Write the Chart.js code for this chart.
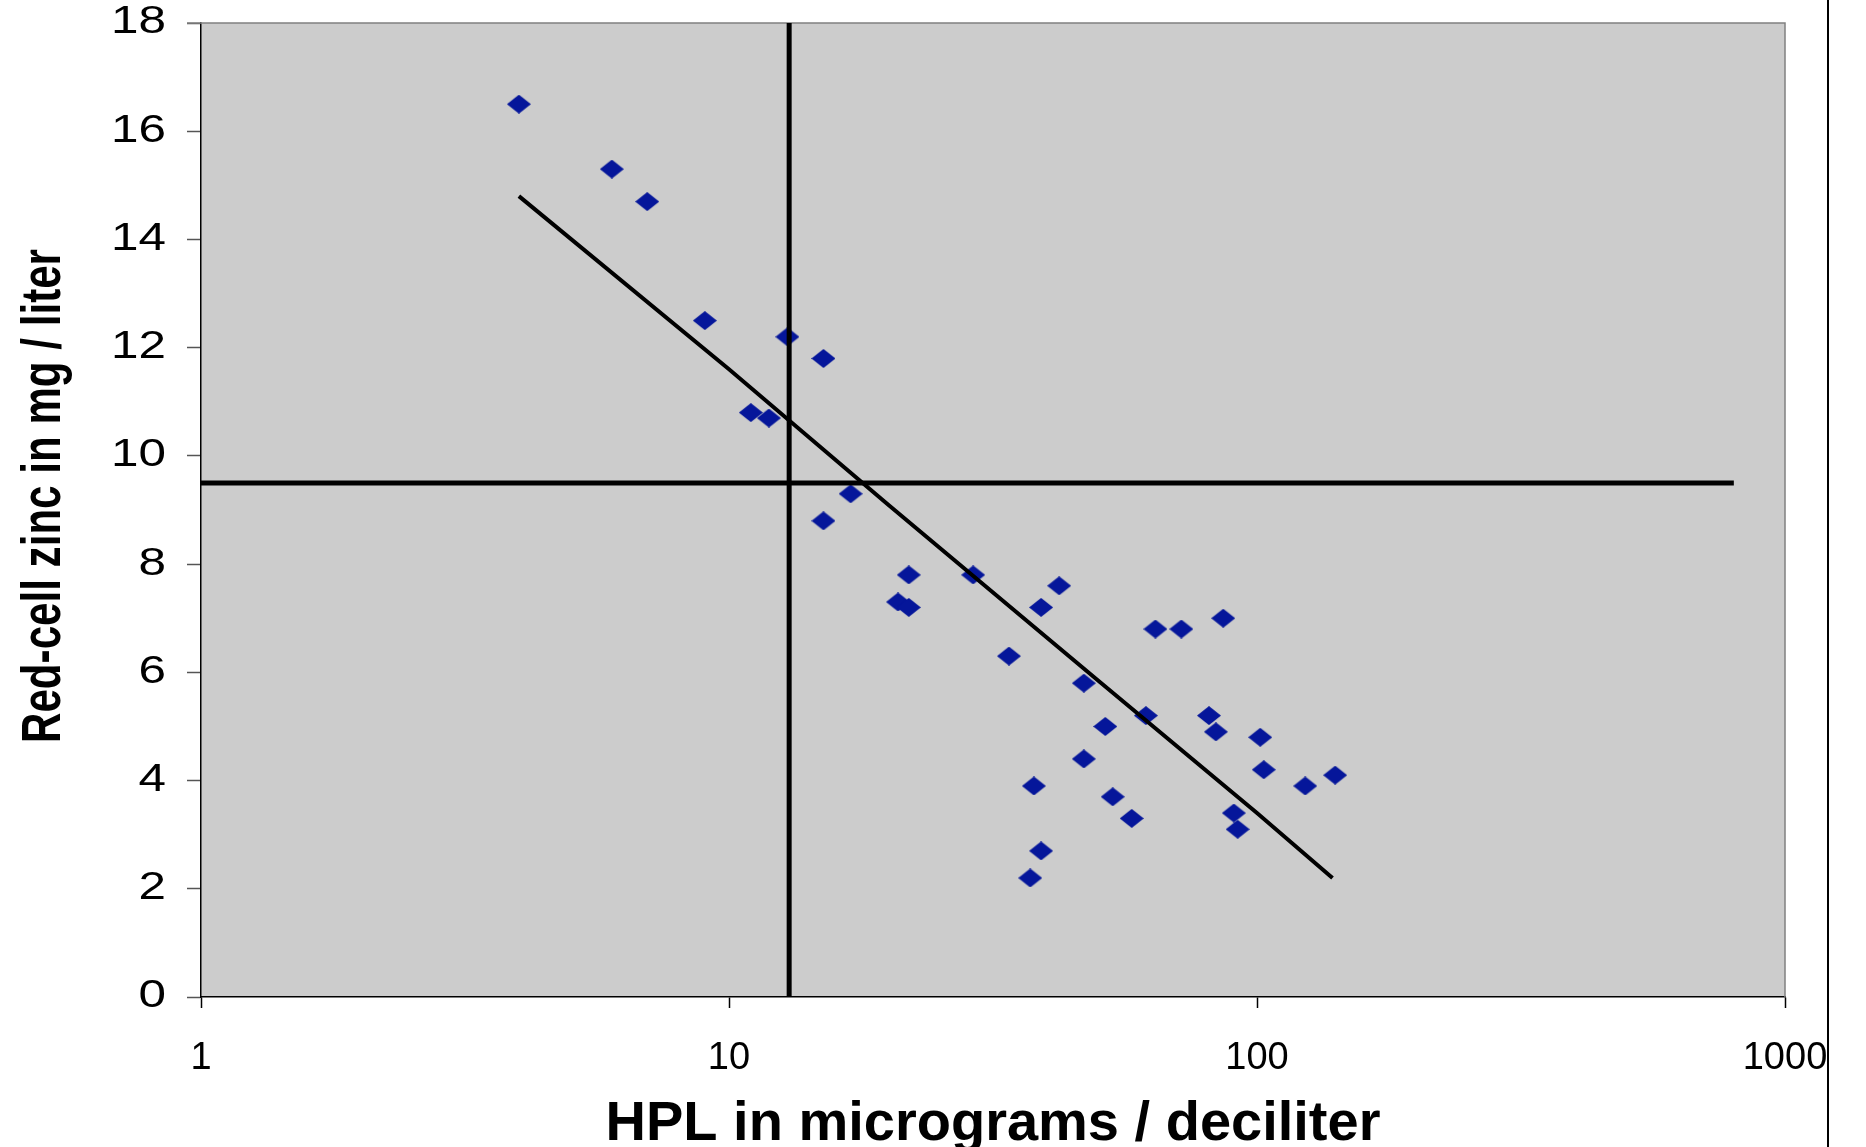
<!DOCTYPE html>
<html>
<head>
<meta charset="utf-8">
<script src="https://cdn.jsdelivr.net/npm/chart.js@4/dist/chart.umd.min.js"></script>
<style>
  html, body { margin: 0; padding: 0; background: #fff; }
  #wrap { width: 1866px; height: 1147px; }
</style>
</head>
<body>
<div id="wrap"><canvas id="zincChart" width="1866" height="1147"></canvas></div>
<script>
// HPL (x, log scale) vs red-cell zinc (y)
const hplValues = [4.0, 6.0, 7.0, 9.0, 12.9, 15.1, 11.0, 11.9, 17.0, 15.1,
    21.9, 20.9, 21.9, 29.0, 33.9, 42.2, 39.0, 47.0, 51.6, 47.0,
    37.8, 53.3, 57.9, 39.0, 37.2, 61.6, 64.2, 71.9, 86.3, 81.1,
    83.6, 101.4, 103.0, 123.4, 140.6, 90.4, 91.9];
const zincValues = [16.5, 15.3, 14.7, 12.5, 12.2, 11.8, 10.8, 10.7, 9.3, 8.8,
    7.8, 7.3, 7.2, 7.8, 6.3, 7.6, 7.2, 5.8, 5.0, 4.4,
    3.9, 3.7, 3.3, 2.7, 2.2, 5.2, 6.8, 6.8, 7.0, 5.2,
    4.9, 4.8, 4.2, 3.9, 4.1, 3.4, 3.1];

// trend line
const trendX = [4, 10, 20, 50, 100, 139];
const trendY = [14.8, 11.6, 9.1, 5.85, 3.4, 2.2];

// reference lines
const refHplValue = 13;
const refZincValue = 9.5;
const refZincLineX = [1, 800];
const refHplLineY = [0, 18];

const xTickValues = [1, 10, 100, 1000];
const yTickValues = [0, 2, 4, 6, 8, 10, 12, 14, 16, 18];

const xTitle = 'HPL in micrograms / deciliter';
const yTitle = 'Red-cell zinc in mg / liter';

const FONT = '"Liberation Sans", Arial, Helvetica, sans-serif';

// flat blue diamond marker
function makeDiamond(w, h, color) {
    const c = document.createElement('canvas');
    c.width = w;
    c.height = h;
    const g = c.getContext('2d');
    g.fillStyle = color;
    g.beginPath();
    g.moveTo(w / 2, 0);
    g.lineTo(w, h / 2);
    g.lineTo(w / 2, h);
    g.lineTo(0, h / 2);
    g.closePath();
    g.fill();
    return c;
}

const plotDecor = {
    id: 'plotDecor',
    beforeDraw(chart) {
        const { ctx, chartArea: a } = chart;
        ctx.save();
        ctx.fillStyle = '#ffffff';
        ctx.fillRect(0, 0, chart.width, chart.height);
        ctx.fillStyle = '#cccccc';
        ctx.fillRect(a.left, a.top, a.right - a.left, a.bottom - a.top);
        ctx.restore();
    },
    beforeDatasetsDraw(chart) {
        const { ctx, chartArea: a } = chart;
        ctx.save();
        ctx.strokeStyle = '#808080';
        ctx.lineWidth = 1.5;
        ctx.beginPath();
        ctx.moveTo(a.left - 14, a.top);
        ctx.lineTo(a.right, a.top);
        ctx.lineTo(a.right, a.bottom);
        ctx.stroke();
        ctx.restore();
    },
    afterDraw(chart) {
        const { ctx } = chart;
        const ys = chart.scales.y;

        ctx.save();
        // outer frame edge on the right
        ctx.strokeStyle = '#000000';
        ctx.lineWidth = 2;
        ctx.beginPath();
        ctx.moveTo(1828, 0);
        ctx.lineTo(1828, chart.height);
        ctx.stroke();

        // y tick labels, drawn a bit wide like the original
        ctx.fillStyle = '#000000';
        ctx.font = '38px ' + FONT;
        ctx.textAlign = 'right';
        ctx.textBaseline = 'middle';
        ys.ticks.forEach(t => {
            ctx.save();
            ctx.translate(ys.right - 35, ys.getPixelForValue(t.value));
            ctx.scale(1.3, 1);
            ctx.fillText(String(t.value), 0, 0);
            ctx.restore();
        });

        // condensed rotated y title
        ctx.translate(45, 496);
        ctx.rotate(-Math.PI / 2);
        ctx.font = 'bold 56px ' + FONT;
        const w = ctx.measureText(yTitle).width;
        ctx.scale(494 / w, 1);
        ctx.textAlign = 'center';
        ctx.fillText(yTitle, 0, 0);
        ctx.restore();
    }
};

const points = hplValues.map((x, i) => ({ x: x, y: zincValues[i] }));
const trend = trendX.map((x, i) => ({ x: x, y: trendY[i] }));
const hLine = refZincLineX.map(x => ({ x: x, y: refZincValue }));
const vLine = refHplLineY.map(y => ({ x: refHplValue, y: y }));

const ctx = document.getElementById('zincChart');
new Chart(ctx, {
    type: 'scatter',
    data: {
        datasets: [
            {
                label: 'HPL ref',
                data: vLine,
                showLine: true,
                borderColor: '#000000',
                borderWidth: 5,
                pointRadius: 0
            },
            {
                label: 'Zinc ref',
                data: hLine,
                showLine: true,
                borderColor: '#000000',
                borderWidth: 5,
                pointRadius: 0
            },
            {
                label: 'Trend',
                data: trend,
                showLine: true,
                borderColor: '#000000',
                borderWidth: 4,
                pointRadius: 0
            },
            {
                label: 'Patients',
                data: points,
                pointStyle: makeDiamond(24, 19, '#05169a'),
                pointRadius: 10
            }
        ]
    },
    options: {
        responsive: false,
        animation: false,
        devicePixelRatio: 1,
        layout: {
            padding: { left: 0, right: 81, top: 23, bottom: 0 }
        },
        plugins: {
            legend: { display: false },
            tooltip: { enabled: false }
        },
        scales: {
            x: {
                type: 'logarithmic',
                min: 1,
                max: 1000,
                afterBuildTicks: s => { s.ticks = xTickValues.map(v => ({ value: v })); },
                afterFit: s => { s.height = 150; },
                grid: {
                    drawOnChartArea: false,
                    drawTicks: true,
                    tickLength: 11,
                    tickColor: '#000000',
                    tickWidth: 1.5
                },
                border: { display: true, color: '#000000', width: 1.5 },
                ticks: {
                    autoSkip: false,
                    maxRotation: 0,
                    padding: 28,
                    color: '#000000',
                    font: { family: FONT, size: 38 },
                    callback: v => String(v)
                },
                title: {
                    display: true,
                    text: xTitle,
                    color: '#000000',
                    padding: 0,
                    font: { family: FONT, size: 56, weight: 'bold', lineHeight: 0.8 }
                }
            },
            y: {
                min: 0,
                max: 18,
                afterBuildTicks: s => { s.ticks = yTickValues.map(v => ({ value: v })); },
                afterFit: s => { s.width = 201; },
                grid: {
                    drawOnChartArea: false,
                    drawTicks: true,
                    tickLength: 14,
                    tickColor: '#555555',
                    tickWidth: 1.5
                },
                border: { display: true, color: '#000000', width: 1.5 },
                ticks: { display: false }
            }
        }
    },
    plugins: [plotDecor]
});
</script>
</body>
</html>
